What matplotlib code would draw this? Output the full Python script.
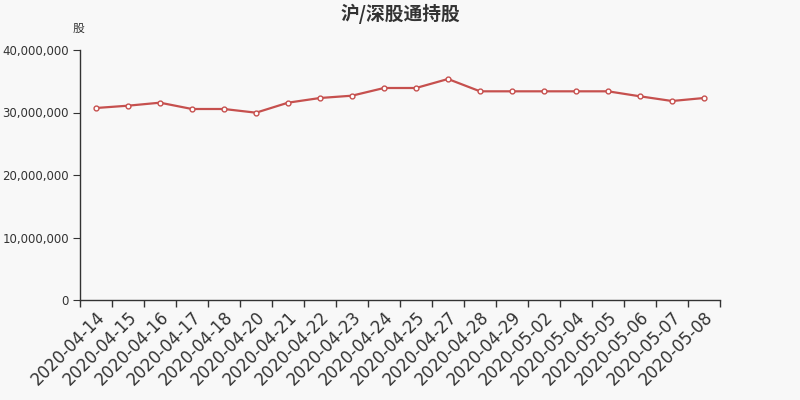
import matplotlib
matplotlib.use("Agg")
import matplotlib.pyplot as plt
from matplotlib.ticker import FuncFormatter, FixedLocator
from matplotlib.transforms import ScaledTranslation

plt.rcParams['font.family'] = ['DejaVu Sans', 'Noto Sans CJK SC']

dates = ["2020-04-14", "2020-04-15", "2020-04-16", "2020-04-17", "2020-04-18",
         "2020-04-20", "2020-04-21", "2020-04-22", "2020-04-23", "2020-04-24",
         "2020-04-25", "2020-04-27", "2020-04-28", "2020-04-29", "2020-05-02",
         "2020-05-04", "2020-05-05", "2020-05-06", "2020-05-07", "2020-05-08"]
shares = [30720000, 31090000, 31570000, 30560000, 30560000,
          29970000, 31570000, 32320000, 32690000, 33920000,
          33920000, 35360000, 33390000, 33390000, 33390000,
          33390000, 33390000, 32590000, 31840000, 32320000]
yticks = [0, 10000000, 20000000, 30000000, 40000000]
title = "沪/深股通持股"
unit = "股"

bg = "#f8f8f8"
line_color = "#c6504e"
fig = plt.figure(figsize=(8, 4), dpi=100, facecolor=bg)
ax = fig.add_axes([0.1, 0.25, 0.8, 0.625], facecolor=bg)

x = list(range(len(dates)))
ax.plot(x, shares, color=line_color, lw=1.6, marker="o", markersize=3.5,
        markerfacecolor="white", markeredgecolor=line_color, markeredgewidth=1, zorder=3)

ax.set_xlim(-0.5, len(dates) - 0.5)
ax.set_ylim(yticks[0], yticks[-1])
ax.set_yticks(yticks)
ax.yaxis.set_major_formatter(FuncFormatter(lambda v, p: f"{int(v):,}"))

ax.set_xticks(x)
ax.set_xticklabels(dates, rotation=45, ha="right", rotation_mode="anchor", fontsize=12, color="#333333")
offset = ScaledTranslation(-6 / 100, 0, fig.dpi_scale_trans)
for lbl in ax.get_xticklabels():
    lbl.set_transform(lbl.get_transform() + offset)
ax.tick_params(axis="x", which="major", length=0, pad=6)
ax.xaxis.set_minor_locator(FixedLocator([i - 0.5 for i in range(len(dates) + 1)]))
ax.tick_params(axis="x", which="minor", length=5, color="#333333", width=1)
ax.tick_params(axis="y", length=5, color="#333333", labelsize=8.5, labelcolor="#333333", pad=3)

for s in ["top", "right"]:
    ax.spines[s].set_visible(False)
for s in ["left", "bottom"]:
    ax.spines[s].set_color("#333333")
    ax.spines[s].set_linewidth(1)

fig.text(0.5, 0.965, title, ha="center", va="center", fontsize=13.5, fontweight="bold",
         color="#333333", family=["Noto Sans CJK SC", "DejaVu Sans"])
fig.text(0.098, 0.928, unit, ha="center", va="center", fontsize=8.5,
         color="#333333", family=["Noto Sans CJK SC", "DejaVu Sans"])

fig.savefig("out.png", dpi=100, facecolor=bg)
